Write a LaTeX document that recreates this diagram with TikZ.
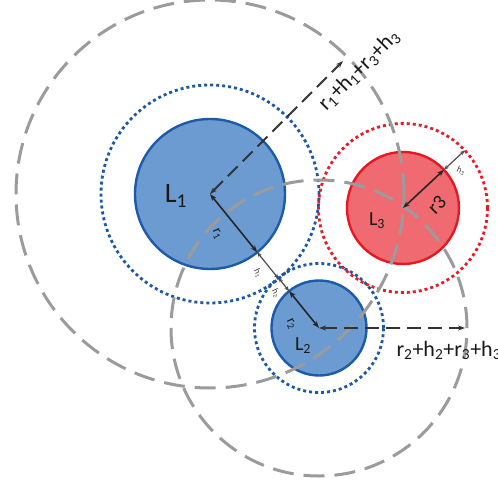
\documentclass[tikz,border=0pt]{standalone}
\usepackage{fontspec}
\setmainfont{Carlito}
\usetikzlibrary{arrows.meta}

\definecolor{lensblue}{RGB}{108,155,210}
\definecolor{lensblueline}{RGB}{28,90,170}
\definecolor{lensred}{RGB}{240,106,114}
\definecolor{lensredline}{RGB}{232,24,34}
\definecolor{dotblue}{RGB}{28,88,168}
\definecolor{dotred}{RGB}{230,28,38}
\definecolor{rimgrey}{RGB}{155,155,155}

\begin{document}
\begin{tikzpicture}[x=1pt,y=-1pt,>={Stealth[length=7pt,width=5pt]},
  lens/.style={draw,circle,inner sep=0pt,outer sep=0pt,line width=2.4pt},
  halo/.style={draw,circle,inner sep=0pt,outer sep=0pt,line width=2.8pt,dash pattern=on 3pt off 3pt},
  rim/.style={draw=rimgrey,circle,inner sep=0pt,outer sep=0pt,line width=3pt,dash pattern=on 21pt off 10pt},
  rad/.style={<->,line width=1.6pt,black!85},
  gap/.style={<->,line width=1.2pt,black!70,>={Stealth[length=5pt,width=4pt]}},
  sum/.style={<->,line width=1.8pt,black!80,dash pattern=on 14pt off 7pt},
  lbl/.style={font=\fontsize{22}{26}\selectfont,text=black!90},
  mid/.style={font=\fontsize{14}{16}\selectfont,inner sep=0pt,text=black!90},
  tiny/.style={font=\fontsize{9}{10}\selectfont,inner sep=0pt,text=black!75}]
\useasboundingbox (0,0) rectangle (498,484);
% lenses and their margins
\node[halo,draw=dotblue,minimum size=218] (H1) at (210,194) {};
\node[lens,fill=lensblue,draw=lensblueline,minimum size=150] (L1) at (H1) {};
\node[halo,draw=dotblue,minimum size=129] (H2) at (319,328) {};
\node[lens,fill=lensblue,draw=lensblueline,minimum size=95] (L2) at (H2) {};
\node[halo,draw=dotred,minimum size=169] (H3) at (403,208) {};
\node[lens,fill=lensred,draw=lensredline,minimum size=112] (L3) at (H3) {};
% reach circles
\node[rim,minimum size=388] (R1) at (L1) {};
\node[rim,minimum size=296] (R2) at (L2) {};
% names
\node[font=\fontsize{28}{30}\selectfont,text=black!90] (n1) at (176,196) {L\textsubscript{1}};
\node[font=\fontsize{20}{24}\selectfont,text=black!90] (n2) at (303,346) {L\textsubscript{2}};
\node[font=\fontsize{20}{24}\selectfont,text=black!90] (n3) at (377,221) {L\textsubscript{3}};
% radii and margins
\draw[rad] (L1.center) -- (L1.-51);
\draw[gap] (L1.-51) -- (H1.-51);
\draw[gap] (H2.129) -- (L2.129);
\draw[rad] (L2.129) -- (L2.center);
\draw[rad] (L3.center) -- (L3.43);
\draw[gap] (L3.43) -- (H3.43);
\draw[sum,shorten >=6pt] (L1.center) -- (R1.45);
\draw[sum,shorten >=2pt] (L2.center) -- (R2.0);
\node[mid,rotate=-65] (t1) at (217,234) {r\textsubscript{1}};
\node[mid,rotate=-65] (t2) at (291,324) {r\textsubscript{2}};
\node[font=\fontsize{20}{24}\selectfont,text=black!90,rotate=45] (t3) at (437,205) {r3};
\node[tiny,rotate=-65] (g1) at (258,273) {h\textsubscript{1}};
\node[tiny,rotate=-65] (g2) at (276,293) {h\textsubscript{2}};
\node[tiny,rotate=-25] (g3) at (461,171) {h\textsubscript{3}};
\node[lbl,rotate=45] (s1) at (359,70) {r\textsubscript{1}+h\textsubscript{1}+r\textsubscript{3}+h\textsubscript{3}};
\node[lbl,anchor=west] (s2) at (393,350) {r\textsubscript{2}+h\textsubscript{2}+r\textsubscript{3}+h\textsubscript{3}};
\end{tikzpicture}
\end{document}
